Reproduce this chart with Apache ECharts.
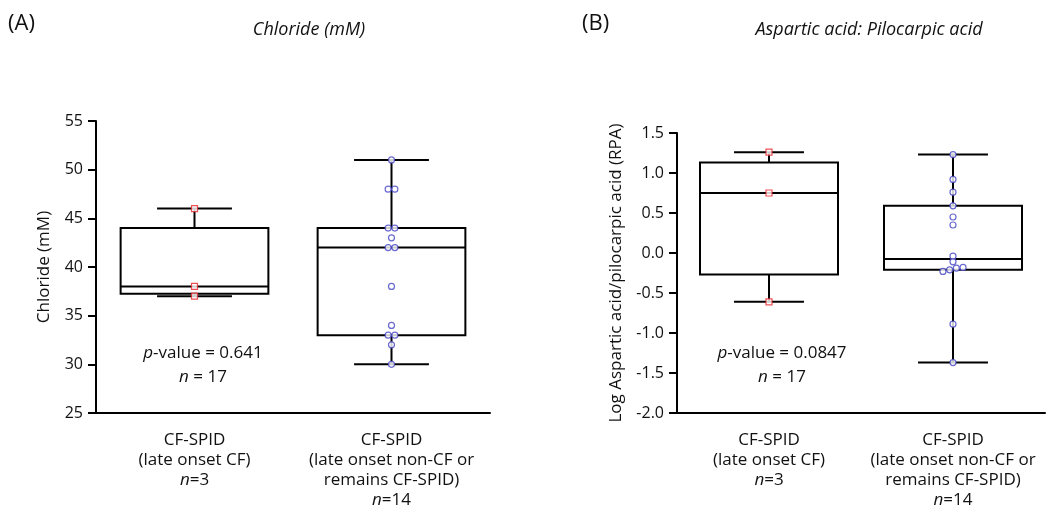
<!DOCTYPE html>
<html>
<head>
<meta charset="utf-8">
<script src="https://cdn.jsdelivr.net/npm/echarts@6/dist/echarts.min.js"></script>
<style>
html,body{margin:0;padding:0;background:#fff;}
#c{width:1048px;height:521px;}
</style>
</head>
<body>
<div id="c"></div>
<script>
// ---------- data ----------
const categories = ['CF-SPID\n(late onset CF)', 'CF-SPID\n(late onset non-CF or\nremains CF-SPID)'];
const groupN = [3, 14];

const chlorideTicks = [25, 30, 35, 40, 45, 50, 55];
const chlorideLateCF = [46, 38, 37];
const chlorideOther = [51, 48, 48, 44, 44, 43, 42, 42, 38, 34, 33, 33, 32, 30];
// [min, Q1, median, Q3, max]
const chlorideBoxLateCF = [37, 37.25, 38, 44, 46];
const chlorideBoxOther = [30, 33, 42, 44, 51];

const aspTicks = [-2.0, -1.5, -1.0, -0.5, 0.0, 0.5, 1.0, 1.5];
const aspLateCF = [1.26, 0.75, -0.61];
const aspOther = [1.23, 0.92, 0.76, 0.59, 0.45, 0.35, -0.04, -0.11, -0.18, -0.19, -0.21, -0.23, -0.89, -1.37];
const aspBoxLateCF = [-0.61, -0.27, 0.75, 1.13, 1.26];
const aspBoxOther = [-1.37, -0.21, -0.075, 0.59, 1.23];

const pValues = ['0.641', '0.0847'];
const totalN = [17, 17];

// ---------- styles ----------
const FONT = '"Open Sans", "Noto Sans", sans-serif';
const TXT = '#111';

function boxRender(params, api) {
  const i = api.value(0);
  const pMin = api.coord([i, api.value(1)]);
  const pQ1 = api.coord([i, api.value(2)]);
  const pMed = api.coord([i, api.value(3)]);
  const pQ3 = api.coord([i, api.value(4)]);
  const pMax = api.coord([i, api.value(5)]);
  const band = api.size([1, 0])[0];
  const bw = band * 0.75, cw = band * 0.38;
  const x = pMed[0];
  const st = {stroke: '#000', lineWidth: 2, fill: null};
  return {
    type: 'group',
    children: [
      {type: 'line', shape: {x1: x, y1: pQ3[1], x2: x, y2: pMax[1]}, style: st},
      {type: 'line', shape: {x1: x, y1: pQ1[1], x2: x, y2: pMin[1]}, style: st},
      {type: 'line', shape: {x1: x - cw / 2, y1: pMax[1], x2: x + cw / 2, y2: pMax[1]}, style: st},
      {type: 'line', shape: {x1: x - cw / 2, y1: pMin[1], x2: x + cw / 2, y2: pMin[1]}, style: st},
      {type: 'rect', shape: {x: x - bw / 2, y: pQ3[1], width: bw, height: pQ1[1] - pQ3[1]}, style: {stroke: '#000', lineWidth: 2, fill: '#fff'}},
      {type: 'line', shape: {x1: x - bw / 2, y1: pMed[1], x2: x + bw / 2, y2: pMed[1]}, style: st}
    ]
  };
}

function xAxisDef(gi) {
  return {
    type: 'category', gridIndex: gi, data: categories,
    axisLine: {onZero: false, lineStyle: {color: '#000', width: 2}},
    axisTick: {alignWithLabel: true, length: 8, lineStyle: {color: '#000', width: 2}},
    axisLabel: {
      interval: 0, margin: 17, color: TXT, fontFamily: FONT, fontSize: 17, lineHeight: 20,
      formatter: (v, idx) => v + '\n{i|n}=' + groupN[idx],
      rich: {i: {fontStyle: 'italic', fontFamily: FONT, fontSize: 17, lineHeight: 20, color: TXT}}
    },
    splitLine: {show: false}
  };
}
function yAxisDef(gi, ticks, name, gap, dec) {
  return {
    type: 'value', gridIndex: gi,
    min: ticks[0], max: ticks[ticks.length - 1], interval: ticks[1] - ticks[0],
    name: name, nameLocation: 'middle', nameGap: gap,
    nameTextStyle: {color: TXT, fontFamily: FONT, fontSize: 17},
    axisLine: {show: true, onZero: false, lineStyle: {color: '#000', width: 2}},
    axisTick: {show: true, length: 8, lineStyle: {color: '#000', width: 2}},
    axisLabel: {color: TXT, fontFamily: FONT, fontSize: 16, margin: 13,
      formatter: v => dec ? v.toFixed(1) : String(v)},
    splitLine: {show: false}
  };
}

const redSq = {symbol: 'rect', symbolSize: 6, itemStyle: {color: '#fff', borderColor: '#e8262b', borderWidth: 1.2}};
const blueCi = {symbol: 'circle', symbolSize: 6, itemStyle: {color: '#fff', borderColor: '#4545c4', borderWidth: 1.2}};

function pts(idx, arr) { return arr.map(v => ({value: [idx, v]})); }

const chart = echarts.init(document.getElementById('c'), null, {renderer: 'canvas'});

const richI = {i: {fontStyle: 'italic', fontFamily: FONT, fontSize: 17, fill: TXT}};
const option = {
  animation: false,
  backgroundColor: '#fff',
  grid: [
    {left: 96, top: 121, width: 394, height: 292, containLabel: false, outerBoundsMode: 'none'},
    {left: 677, top: 133, width: 368, height: 280, containLabel: false, outerBoundsMode: 'none'}
  ],
  xAxis: [xAxisDef(0), xAxisDef(1)],
  yAxis: [
    yAxisDef(0, chlorideTicks, 'Chloride (mM)', 43, false),
    yAxisDef(1, aspTicks, 'Log Aspartic acid/pilocarpic acid (RPA)', 52, true)
  ],
  series: [
    {type: 'custom', xAxisIndex: 0, yAxisIndex: 0, renderItem: boxRender, z: 2,
      encode: {x: 0, y: [1, 2, 3, 4, 5]},
      data: [[0].concat(chlorideBoxLateCF), [1].concat(chlorideBoxOther)]},
    {type: 'custom', xAxisIndex: 1, yAxisIndex: 1, renderItem: boxRender, z: 2,
      encode: {x: 0, y: [1, 2, 3, 4, 5]},
      data: [[0].concat(aspBoxLateCF), [1].concat(aspBoxOther)]},
    Object.assign({type: 'scatter', xAxisIndex: 0, yAxisIndex: 0, z: 5, data: pts(0, chlorideLateCF)}, redSq),
    Object.assign({type: 'scatter', xAxisIndex: 0, yAxisIndex: 0, z: 5, data: pts(1, chlorideOther)}, blueCi),
    Object.assign({type: 'scatter', xAxisIndex: 1, yAxisIndex: 1, z: 5, data: pts(0, aspLateCF)}, redSq),
    Object.assign({type: 'scatter', xAxisIndex: 1, yAxisIndex: 1, z: 5, data: pts(1, aspOther)}, blueCi)
  ],
  graphic: [
    {type: 'text', left: 8, top: 13, style: {text: '(A)', font: '22px ' + FONT, fill: TXT}},
    {type: 'text', left: 582, top: 13, style: {text: '(B)', font: '22px ' + FONT, fill: TXT}},
    {type: 'text', x: 309, y: 30, style: {text: 'Chloride (mM)', font: 'italic 18px ' + FONT, fill: TXT, align: 'center', verticalAlign: 'middle'}},
    {type: 'text', x: 869, y: 30, style: {text: 'Aspartic acid: Pilocarpic acid', font: 'italic 18px ' + FONT, fill: TXT, align: 'center', verticalAlign: 'middle'}},
    {type: 'text', x: 203, y: 353, style: {text: '{i|p}-value = ' + pValues[0], font: '17px ' + FONT, fill: TXT, align: 'center', verticalAlign: 'middle', rich: richI}},
    {type: 'text', x: 203, y: 377, style: {text: '{i|n} = ' + totalN[0], font: '17px ' + FONT, fill: TXT, align: 'center', verticalAlign: 'middle', rich: richI}},
    {type: 'text', x: 782, y: 353, style: {text: '{i|p}-value = ' + pValues[1], font: '17px ' + FONT, fill: TXT, align: 'center', verticalAlign: 'middle', rich: richI}},
    {type: 'text', x: 782, y: 377, style: {text: '{i|n} = ' + totalN[1], font: '17px ' + FONT, fill: TXT, align: 'center', verticalAlign: 'middle', rich: richI}}
  ]
};
chart.setOption(option);

// beeswarm-style horizontal spreading of points that overlap in pixel space
function swarm(idx, arr, yAxisIndex, sym) {
  const items = arr.map(v => ({v: v, py: chart.convertToPixel({yAxisIndex: yAxisIndex}, v)}));
  const order = items.map((d, k) => k).sort((a, b) => items[b].py - items[a].py);
  const offsets = new Array(arr.length).fill(0);
  let cluster = [];
  const flush = () => {
    const n = cluster.length;
    cluster.forEach((k, j) => { offsets[k] = (j - (n - 1) / 2) * (sym + 0.7); });
    cluster = [];
  };
  order.forEach(k => {
    if (cluster.length && Math.abs(items[k].py - items[cluster[cluster.length - 1]].py) > 5) flush();
    cluster.push(k);
  });
  flush();
  return arr.map((v, k) => ({value: [idx, v], symbolOffset: [offsets[k], 0]}));
}
chart.setOption({
  series: [
    {}, {},
    {data: swarm(0, chlorideLateCF, 0, 6)},
    {data: swarm(1, chlorideOther, 0, 6)},
    {data: swarm(0, aspLateCF, 1, 6)},
    {data: swarm(1, aspOther, 1, 6)}
  ]
});
</script>
</body>
</html>
